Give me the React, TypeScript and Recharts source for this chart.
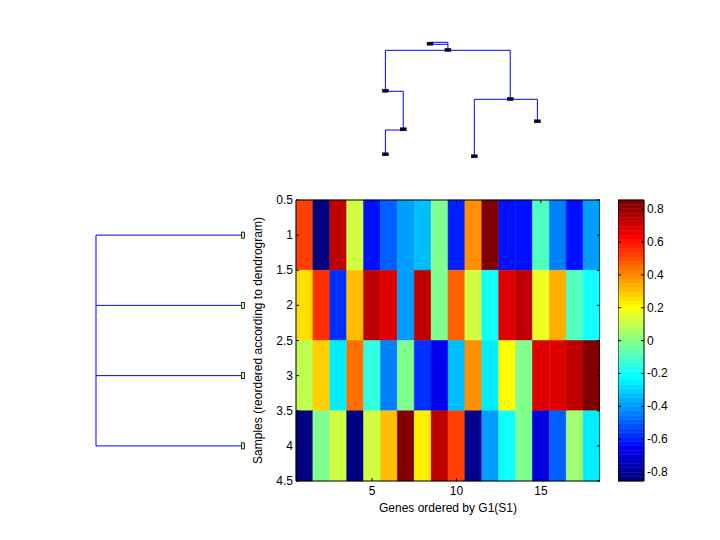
import React from 'react';
import { ComposedChart, XAxis, YAxis, ReferenceArea, Scatter, Label } from 'recharts';

// ---------- data ----------
const genes = [1, 2, 3, 4, 5, 6, 7, 8, 9, 10, 11, 12, 13, 14, 15, 16, 17, 18];
const samples = [1, 2, 3, 4];
const sample1 = [0.535, -0.85, 0.749, 0.129, -0.63, -0.49, -0.375, -0.34, 0.0, -0.59, 0.38, 0.856, -0.615, -0.615, -0.106, -0.449, -0.63, -0.376];
const sample2 = [0.266, 0.56, -0.565, 0.321, 0.74, 0.67, -0.4, 0.74, 0.0, 0.48, 0.129, -0.213, 0.67, 0.74, 0.163, 0.348, -0.106, -0.188];
const sample3 = [0.107, 0.29, -0.265, 0.454, -0.136, -0.449, 0.0, -0.565, -0.65, -0.34, 0.38, -0.265, 0.214, 0.0, 0.695, 0.67, 0.74, 0.856];
const sample4 = [-0.855, 0.0, 0.129, -0.855, 0.129, 0.321, 0.856, 0.24, 0.74, 0.51, -0.82, -0.376, -0.188, 0.0, -0.67, -0.49, 0.05, -0.265];
const sampleRows = [sample1, sample2, sample3, sample4];

const xTicks = [5, 10, 15];
const yTicks = [0.5, 1, 1.5, 2, 2.5, 3, 3.5, 4, 4.5];
const cTicks = [-0.8, -0.6, -0.4, -0.2, 0, 0.2, 0.4, 0.6, 0.8];
const CMIN = -0.855;
const CMAX = 0.856;

// top dendrogram (x = layout position, h = linkage height)
const topLinkA = [{ x: 3.16, h: 1.177 }, { x: 4.1, h: 1.177 }, { x: 4.1, h: 1.1 }];
const topLinkB = [{ x: 3.16, h: 1.157 }, { x: 4.1, h: 1.157 }];
const topLinkMain = [{ x: 0.81, h: 0.693 }, { x: 0.81, h: 1.097 }, { x: 7.38, h: 1.097 }, { x: 7.38, h: 0.61 }];
const topLinkLeft = [{ x: 0.81, h: 0.687 }, { x: 1.75, h: 0.687 }, { x: 1.75, h: 0.3 }, { x: 0.81, h: 0.3 }, { x: 0.81, h: 0.057 }];
const topLinkRight = [{ x: 5.49, h: 0.037 }, { x: 5.49, h: 0.607 }, { x: 8.81, h: 0.607 }, { x: 8.81, h: 0.387 }];
const topNodes = [
  { x: 3.16, h: 1.163 }, { x: 4.1, h: 1.1 }, { x: 0.81, h: 0.693 }, { x: 1.75, h: 0.307 },
  { x: 0.81, h: 0.057 }, { x: 7.38, h: 0.61 }, { x: 5.49, h: 0.037 }, { x: 8.81, h: 0.387 },
];

// left dendrogram (samples merge at one distance)
const leftMergeDistance = 1;

// ---------- colormap (jet, 64 levels) ----------
function jetU(k: number) {
  if (k < 1 || k > 47) return 0;
  if (k <= 16) return k / 16;
  if (k <= 31) return 1;
  return (48 - k) / 16;
}
function jet(i: number) {
  const r = i >= 25 ? jetU(i - 24) : 0;
  const g = i >= 9 && i <= 55 ? jetU(i - 8) : 0;
  const b = i <= 39 ? jetU(i + 7) : 0;
  return `rgb(${Math.round(r * 255)},${Math.round(g * 255)},${Math.round(b * 255)})`;
}
function colorOf(v: number) {
  let idx = Math.floor(((v - CMIN) / (CMAX - CMIN)) * 64) + 1;
  idx = Math.max(1, Math.min(64, idx));
  return jet(idx);
}

const cells = sampleRows.flatMap((row, r) =>
  row.map((v, c) => ({ x: genes[c], y: samples[r], v }))
);
const levels = Array.from({ length: 64 }, (_, i) => ({
  y1: CMIN + (i * (CMAX - CMIN)) / 64,
  y2: CMIN + ((i + 1) * (CMAX - CMIN)) / 64,
  color: jet(i + 1),
}));

const leftLinks = samples.map((s) => [{ d: 0, r: s }, { d: leftMergeDistance, r: s }]);
const leftSpine = [{ d: leftMergeDistance, r: samples[0] }, { d: leftMergeDistance, r: samples[samples.length - 1] }];
const leftLeaves = samples.map((s) => ({ d: 0, r: s }));

// ---------- layout ----------
const FONT = '"Liberation Sans", Arial, Helvetica, sans-serif';
const PW = 304;
const PH = 281;
const TICK = 3;

const Nothing = () => <g />;

const XTick = (props: any) => {
  const { x, y, payload } = props;
  return (
    <g>
      <line x1={x} y1={y} x2={x} y2={y - TICK} stroke="#000" />
      <line x1={x} y1={y - PH} x2={x} y2={y - PH + TICK} stroke="#000" />
      <text x={x} y={y + 14} textAnchor="middle" fontSize={12} fontFamily={FONT} fill="#000">
        {String(payload.value)}
      </text>
    </g>
  );
};

const YTick = (props: any) => {
  const { x, y, payload } = props;
  return (
    <g>
      <line x1={x} y1={y} x2={x + TICK} y2={y} stroke="#000" />
      <line x1={x + PW - TICK} y1={y} x2={x + PW} y2={y} stroke="#000" />
      <text x={x - 3} y={y + 4} textAnchor="end" fontSize={12} fontFamily={FONT} fill="#000">
        {String(payload.value)}
      </text>
    </g>
  );
};

const CTick = (props: any) => {
  const { x, y, payload } = props;
  return (
    <g>
      <line x1={x - TICK} y1={y} x2={x} y2={y} stroke="#000" />
      <line x1={x - 26} y1={y} x2={x - 26 + TICK} y2={y} stroke="#000" />
      <text x={x + 3} y={y + 4} textAnchor="start" fontSize={12} fontFamily={FONT} fill="#000">
        {String(payload.value)}
      </text>
    </g>
  );
};

const TopMarker = (p: any) => (
  <rect x={p.cx - 3} y={p.cy - 1.5} width={6} height={3} fill="#000033" stroke="#000" strokeWidth={0.5} />
);
const LeftMarker = (p: any) => (
  <rect x={p.cx - 1.5} y={p.cy - 3} width={3} height={6} fill="#bfff80" stroke="#000" strokeWidth={0.8} />
);

const BLUE = '#0000ff';

export default function App() {
  return (
    <div style={{ position: 'absolute', left: 0, top: 0, width: 720, height: 540, background: '#fff', fontFamily: FONT }}>
      {/* top dendrogram */}
      <div style={{ position: 'absolute', left: 370, top: 30 }}>
        <ComposedChart width={190} height={140} margin={{ top: 0, right: 0, bottom: 0, left: 0 }}>
          <XAxis type="number" dataKey="x" domain={[0, 10]} hide />
          <YAxis type="number" dataKey="h" domain={[-0.1, 1.3]} hide />
          {[topLinkA, topLinkB, topLinkMain, topLinkLeft, topLinkRight].map((seg, i) => (
            <Scatter key={i} data={seg} fill={BLUE} line={{ stroke: BLUE, strokeWidth: 1 }} shape={Nothing} isAnimationActive={false} />
          ))}
          <Scatter data={topNodes} fill="#000033" shape={TopMarker} isAnimationActive={false} />
        </ComposedChart>
      </div>

      {/* left dendrogram */}
      <div style={{ position: 'absolute', left: 80, top: 200 }}>
        <ComposedChart width={180} height={281} margin={{ top: 0, right: 0, bottom: 0, left: 0 }}>
          <XAxis type="number" dataKey="d" domain={[-0.1156, 1.1088]} reversed hide />
          <YAxis type="number" dataKey="r" domain={[0.5, 4.5]} reversed hide />
          {leftLinks.map((seg, i) => (
            <Scatter key={i} data={seg} fill={BLUE} line={{ stroke: BLUE, strokeWidth: 1 }} shape={Nothing} isAnimationActive={false} />
          ))}
          <Scatter data={leftSpine} fill={BLUE} line={{ stroke: BLUE, strokeWidth: 1 }} shape={Nothing} isAnimationActive={false} />
          <Scatter data={leftLeaves} fill="#bfff80" shape={LeftMarker} isAnimationActive={false} />
        </ComposedChart>
      </div>

      {/* heatmap */}
      <div style={{ position: 'absolute', left: 246, top: 190 }}>
        <ComposedChart width={354} height={331} margin={{ top: 10, right: 0, bottom: 0, left: 0 }}>
          <Scatter data={cells} dataKey="y" fill="none" shape={Nothing} isAnimationActive={false} />
          {cells.map((c, i) => (
            <ReferenceArea
              key={i}
              x1={c.x - 0.5}
              x2={c.x + 0.5}
              y1={c.y - 0.5}
              y2={c.y + 0.5}
              fill={colorOf(c.v)}
              fillOpacity={1}
              stroke={colorOf(c.v)}
              strokeWidth={0.5}
              isFront={false}
            />
          ))}
          <ReferenceArea x1={0.5} x2={18.5} y1={0.5} y2={4.5} fill="none" fillOpacity={0} stroke="#000" strokeWidth={1} />
          <XAxis
            type="number"
            dataKey="x"
            domain={[0.5, 18.5]}
            ticks={xTicks}
            tick={XTick}
            tickSize={0}
            tickMargin={0}
            tickLine={false}
            axisLine={false}
            height={40}
            interval={0}
          >
            <Label
              content={(p: any) => {
                const vb = p.viewBox || { x: 50, y: 291, width: PW };
                return (
                  <text x={vb.x + vb.width / 2} y={vb.y + 31} textAnchor="middle" fontSize={12} fontFamily={FONT} fill="#000">
                    Genes ordered by G1(S1)
                  </text>
                );
              }}
            />
          </XAxis>
          <YAxis
            type="number"
            dataKey="y"
            domain={[0.5, 4.5]}
            reversed
            ticks={yTicks}
            tick={YTick}
            tickSize={0}
            tickMargin={0}
            tickLine={false}
            axisLine={false}
            width={50}
            interval={0}
          >
            <Label
              content={(p: any) => {
                const vb = p.viewBox || { x: 0, y: 10, height: PH };
                const cx = vb.x + 16;
                const cy = vb.y + vb.height / 2;
                return (
                  <text x={cx} y={cy} transform={`rotate(-90, ${cx}, ${cy})`} textAnchor="middle" fontSize={12} fontFamily={FONT} fill="#000">
                    Samples (reordered according to dendrogram)
                  </text>
                );
              }}
            />
          </YAxis>
        </ComposedChart>
      </div>

      {/* colorbar */}
      <div style={{ position: 'absolute', left: 618, top: 190 }}>
        <ComposedChart width={66} height={301} margin={{ top: 10, right: 0, bottom: 10, left: 0 }}>
          <Scatter data={levels.map((l) => ({ x: 0.5, y: (l.y1 + l.y2) / 2 }))} dataKey="y" fill="none" shape={Nothing} isAnimationActive={false} />
          {levels.map((l, i) => (
            <ReferenceArea key={i} x1={0} x2={1} y1={l.y1} y2={l.y2} fill={l.color} fillOpacity={1} stroke={l.color} strokeWidth={0.5} />
          ))}
          <ReferenceArea x1={0} x2={1} y1={CMIN} y2={CMAX} fill="none" fillOpacity={0} stroke="#000" strokeWidth={1} />
          <XAxis type="number" dataKey="x" domain={[0, 1]} hide />
          <YAxis
            type="number"
            dataKey="y"
            orientation="right"
            domain={[CMIN, CMAX]}
            ticks={cTicks}
            tick={CTick}
            tickSize={0}
            tickMargin={0}
            tickLine={false}
            axisLine={false}
            width={40}
            interval={0}
          />
        </ComposedChart>
      </div>
    </div>
  );
}
